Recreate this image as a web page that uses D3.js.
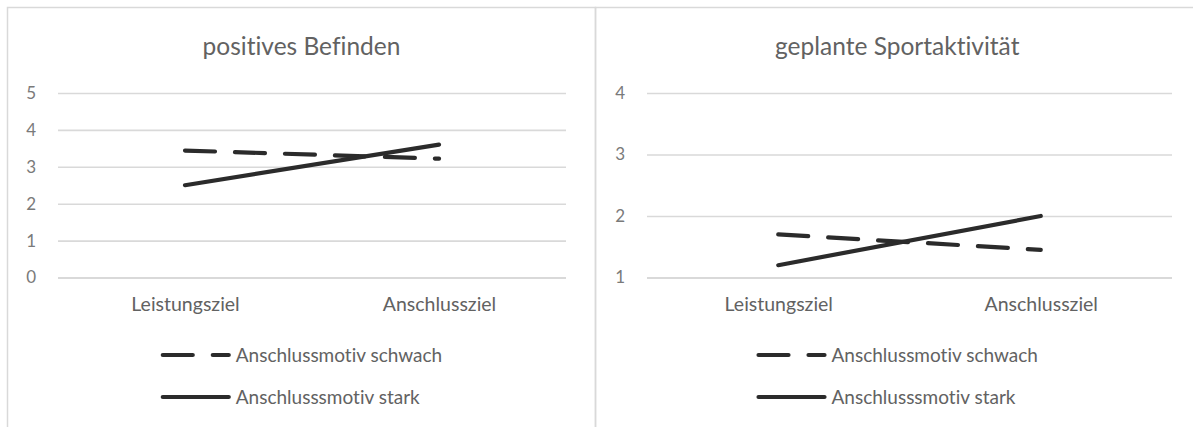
<!DOCTYPE html>
<html>
<head>
<meta charset="utf-8">
<script src="https://cdn.jsdelivr.net/npm/d3@7"></script>
<style>
  html, body { margin: 0; padding: 0; background: #fff; }
  svg { display: block; font-family: Lato, "Open Sans", sans-serif; font-variant-ligatures: none; }
  svg text { font-variant-ligatures: none; }
</style>
</head>
<body>
<svg id="chart" width="1193" height="427"></svg>
<script>
// Goal types on the x axis
const categories = ["Leistungsziel", "Anschlussziel"];

// Legend labels for the two motive groups
const seriesNames = ["Anschlussmotiv schwach", "Anschlusssmotiv stark"];

// Panel titles
const titles = ["positives Befinden", "geplante Sportaktivität"];

// Means per goal type: positive affect
const befindenSchwach = [3.44, 3.22];
const befindenStark = [2.5, 3.6];

// Means per goal type: planned sport activity
const sportSchwach = [1.7, 1.45];
const sportStark = [1.2, 2.0];

// Y axis ticks per panel
const befindenTicks = [0, 1, 2, 3, 4, 5];
const sportTicks = [1, 2, 3, 4];

const svg = d3.select("#chart");
const textColor = "#626262";
const tickColor = "#7a7a7a";
const gridColor = "#d9d9d9";
const lineColor = "#2b2b2b";
const dash = "30,20";

const panels = [
  { title: titles[0], schwach: befindenSchwach, stark: befindenStark, ticks: befindenTicks,
    box: [7.5, 595.5], plotX: [58, 566], labelX: 36 },
  { title: titles[1], schwach: sportSchwach, stark: sportStark, ticks: sportTicks,
    box: [595.5, 1199], plotX: [647, 1172], labelX: 625 }
];

const plotTop = 93, plotBottom = 277.5;

panels.forEach(p => {
  const g = svg.append("g");
  const cx = (p.box[0] + p.box[1]) / 2;

  // panel frame
  g.append("rect")
    .attr("x", p.box[0]).attr("y", 7.5)
    .attr("width", p.box[1] - p.box[0]).attr("height", 440)
    .attr("fill", "none").attr("stroke", gridColor).attr("stroke-width", 1.5);

  g.append("text")
    .attr("x", cx).attr("y", 55)
    .attr("text-anchor", "middle")
    .attr("font-size", 24.5)
    .attr("fill", textColor)
    .text(p.title);

  const x = d3.scalePoint().domain(categories).range(p.plotX).padding(0.5);
  const y = d3.scaleLinear()
    .domain(d3.extent(p.ticks))
    .range([plotBottom, plotTop]);

  // horizontal gridlines
  const yAxis = d3.axisLeft(y).tickValues(p.ticks)
    .tickSize(-(p.plotX[1] - p.plotX[0])).tickPadding(0).tickFormat("");
  const ga = g.append("g").attr("transform", `translate(${p.plotX[0]},0)`).call(yAxis);
  ga.select(".domain").remove();
  ga.selectAll(".tick line")
    .attr("stroke", gridColor)
    .attr("stroke-width", (d, i) => i === 0 ? 2.2 : 1.6);

  // tick labels
  g.selectAll(".ylab").data(p.ticks).join("text")
    .attr("x", p.labelX).attr("y", d => y(d))
    .attr("dy", "0.35em")
    .attr("text-anchor", "end")
    .attr("font-size", 17)
    .attr("fill", tickColor)
    .text(d => d);

  // category labels
  const xAxis = d3.axisBottom(x).tickSize(0).tickPadding(0);
  const gx = g.append("g").attr("transform", `translate(0,${plotBottom})`).call(xAxis);
  gx.select(".domain").remove();
  gx.selectAll(".tick text")
    .attr("y", 33).attr("dy", 0)
    .attr("font-size", 19.5)
    .attr("font-family", "Lato, 'Open Sans', sans-serif")
    .attr("fill", textColor);

  const line = d3.line().x((d, i) => x(categories[i])).y(d => y(d));

  g.append("path").datum(p.schwach)
    .attr("d", line)
    .attr("fill", "none").attr("stroke", lineColor)
    .attr("stroke-width", 4.2).attr("stroke-linecap", "round")
    .attr("stroke-dasharray", dash);

  g.append("path").datum(p.stark)
    .attr("d", line)
    .attr("fill", "none").attr("stroke", lineColor)
    .attr("stroke-width", 4.2).attr("stroke-linecap", "round");

  // legend, centred under the plot
  const legendRows = [{ name: seriesNames[0], dashed: true, y: 355 },
                      { name: seriesNames[1], dashed: false, y: 397 }];
  const lg = g.append("g");
  const texts = legendRows.map(r => lg.append("text")
    .attr("font-size", 19).attr("fill", textColor)
    .attr("y", r.y).attr("dy", "0.35em").text(r.name));
  const wMax = d3.max(texts, t => t.node().getComputedTextLength());
  const sampleW = 70, gap = 5;
  const x0 = cx - (sampleW + gap + wMax) / 2;
  legendRows.forEach((r, i) => {
    lg.append("line")
      .attr("x1", x0 + 2).attr("x2", x0 + sampleW - 2)
      .attr("y1", r.y).attr("y2", r.y)
      .attr("stroke", lineColor).attr("stroke-width", 4.2)
      .attr("stroke-linecap", "round")
      .attr("stroke-dasharray", r.dashed ? dash : null);
    texts[i].attr("x", x0 + sampleW + gap);
  });
});
</script>
</body>
</html>
